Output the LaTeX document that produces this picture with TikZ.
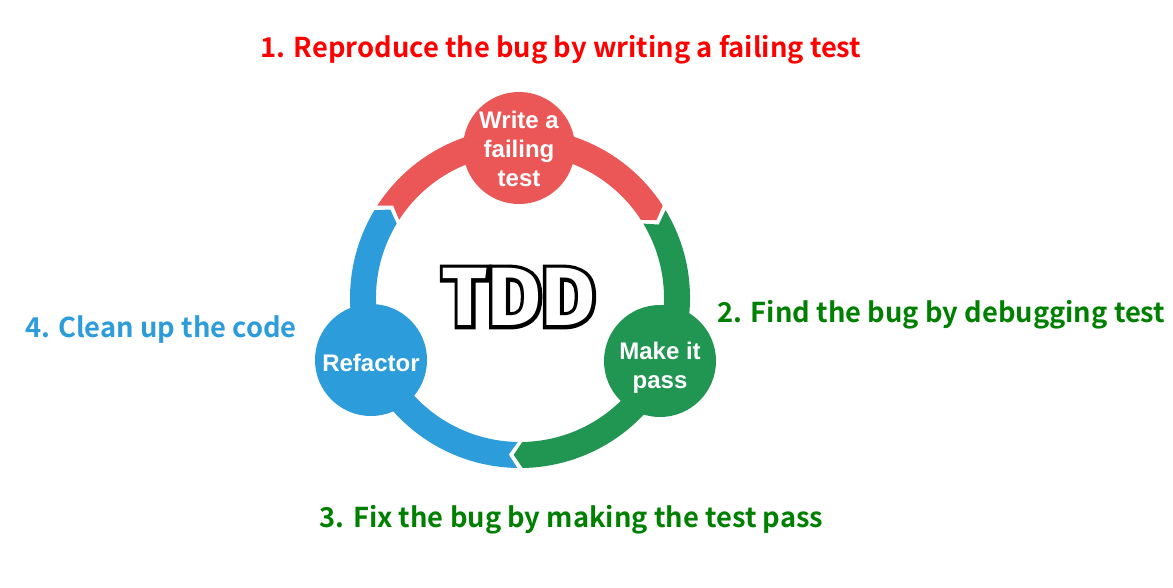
\documentclass[tikz,border=0pt]{standalone}
\usepackage{fontspec}
\setmainfont{Liberation Sans}
\newfontfamily\labfont{Noto Sans CJK JP}[UprightFont=* Bold]
\newfontfamily\tddfont{Fira Sans}
\newfontfamily\tddout{Fira Sans}[FakeBold=9]
\definecolor{cred}{HTML}{EB5757}
\definecolor{cgreen}{HTML}{219653}
\definecolor{cblue}{HTML}{2D9CDB}
\definecolor{tred}{HTML}{FF0000}
\definecolor{tgreen}{HTML}{008000}
\definecolor{tblue}{HTML}{2D9CDB}
\newcommand{\gapang}{0.9}
\newcommand{\tipang}{3.2}
\newcommand{\Rout}{170}
\newcommand{\Rin}{144}
\newcommand{\Rmid}{157}
\newcommand{\ringarc}[3]{%
  \fill[#1] ({#2-\gapang}:\Rout) arc[start angle={#2-\gapang}, end angle={#3+\gapang}, radius=\Rout]
    -- ({#3+\gapang-\tipang}:\Rmid) -- ({#3+\gapang}:\Rin)
    arc[start angle={#3+\gapang}, end angle={#2-\gapang}, radius=\Rin]
    -- ({#2-\gapang-\tipang}:\Rmid) -- cycle;}
\begin{document}
\begin{tikzpicture}[x=0.75pt,y=0.75pt,
  bubble/.style={circle, minimum size=84pt, inner sep=0pt},
  bubbletext/.style={inner sep=0pt, text=white, align=center,
    font=\bfseries\fontsize{18pt}{21.75pt}\selectfont},
  steplabel/.style={anchor=base, inner sep=0pt, font=\labfont\fontsize{20.5pt}{24pt}\selectfont}]
\useasboundingbox (0,0) rectangle (1173,587);
\fill[white] (0,0) rectangle (1173,587);
\begin{scope}[shift={(520,289)}]
  \ringarc{cred}{148}{32}
  \ringarc{cgreen}{32}{-90}
  \ringarc{cblue}{270}{148}
\end{scope}
\node[bubble, fill=cred] (write) at (519,439) {};
\node[bubble, fill=cgreen] (pass) at (660,226) {};
\node[bubble, fill=cblue] (refactor) at (371,227) {};
\node[bubbletext] (writetext) at ([yshift=-1]write.center) {Write a\\failing\\test};
\node[bubbletext] (passtext) at ([yshift=-5]pass.center) {Make it\\pass};
\node[bubbletext] (refactortext) at ([yshift=-2]refactor.center) {Refactor};
\node[inner sep=0pt, font=\bfseries\fontsize{62pt}{70pt}\selectfont] (tdd) at (519,290)
  {{\tddout\color{black}\rlap{TDD}}{\tddfont\color{white}TDD}};
\node[steplabel, text=tred] (l1) at (561,529) {1. Reproduce the bug by writing a failing test};
\node[steplabel, text=tgreen] (l2) at (941.5,265) {2. Find the bug by debugging test};
\node[steplabel, text=tgreen] (l3) at (571.5,60) {3. Fix the bug by making the test pass};
\node[steplabel, text=tblue] (l4) at (161,250) {4. Clean up the code};
\end{tikzpicture}
\end{document}
